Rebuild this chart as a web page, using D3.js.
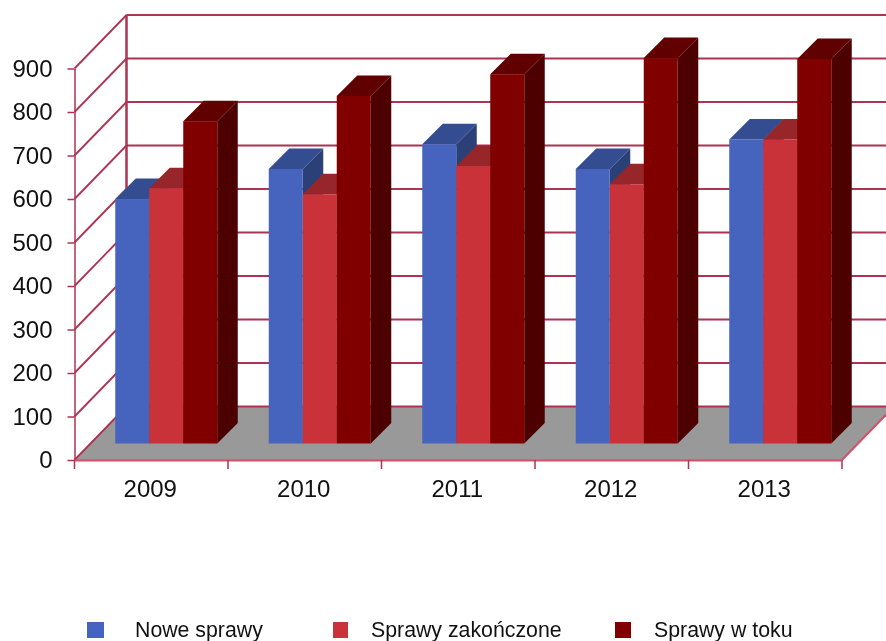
<!DOCTYPE html>
<html>
<head>
<meta charset="utf-8">
<script src="https://cdn.jsdelivr.net/npm/d3@7"></script>
<style>
  html, body { margin: 0; padding: 0; background: #fff; overflow: hidden; }
  text { font-family: "Liberation Sans", Arial, sans-serif; fill: #111; }
  svg { filter: blur(0.35px); }
</style>
</head>
<body>
<div id="chart"></div>
<script>
var years = ['2009', '2010', '2011', '2012', '2013'],
    nowe = [562, 631, 688, 631, 699],
    zakonczone = [587, 573, 638, 596, 699],
    wToku = [741, 799, 849, 886, 884],
    seriesNames = ['Nowe sprawy', 'Sprawy zakończone', 'Sprawy w toku'],
    yTicks = [0, 100, 200, 300, 400, 500, 600, 700, 800, 900];

var width = 886,
    height = 641,
    gridColor = '#ad3352',
    floorLine = '#d2506c',
    depthX = 52,
    depthY = 53.5,
    barW = 34,
    barDepth = 20.5,
    barShift = 15,      // how far the bars sit behind the front edge of the floor
    barLift = 16.5;

var seriesColors = [
    {front: '#4664be', top: '#344c90', side: '#2c4078'},
    {front: '#c83238', top: '#962629', side: '#7c1f22'},
    {front: '#800000', top: '#600000', side: '#4d0000'}
];

var svg = d3.select('#chart')
    .append('svg')
    .attr('width', width)
    .attr('height', height);

var x = d3.scaleBand().domain(years).range([74.5, 842]),
    y = d3.scaleLinear().domain([0, 900]).range([460, 68.5]);

// floor
var x0 = x.range()[0], x1 = x.range()[1], y0 = y(0);
svg.append('polygon')
    .attr('points', [[x0, y0], [x0 + depthX, y0 - depthY], [x1 + depthX, y0 - depthY], [x1, y0]].join(' '))
    .attr('fill', '#999999');

// back wall and side wall grid
var grid = svg.append('g').attr('fill', 'none').attr('stroke', gridColor);

grid.selectAll('.back')
    .data(yTicks)
    .enter()
    .append('line')
    .attr('x1', x0 + depthX)
    .attr('x2', width)
    .attr('y1', d => y(d) - depthY)
    .attr('y2', d => y(d) - depthY)
    .attr('stroke-width', 2);

grid.selectAll('.diag')
    .data(yTicks)
    .enter()
    .append('line')
    .attr('x1', x0)
    .attr('x2', x0 + depthX)
    .attr('y1', d => y(d))
    .attr('y2', d => y(d) - depthY)
    .attr('stroke-width', 1.8);

grid.append('line')
    .attr('x1', x0 + depthX).attr('x2', x0 + depthX)
    .attr('y1', y(900) - depthY).attr('y2', y0 - depthY)
    .attr('stroke-width', 2.5);

grid.append('line')
    .attr('x1', x1).attr('x2', x1 + depthX)
    .attr('y1', y0).attr('y2', y0 - depthY)
    .attr('stroke', floorLine)
    .attr('stroke-width', 2);

// bars
var values = [nowe, zakonczone, wToku];

years.forEach(function(year, i){
    var left = x(year) + (x.bandwidth() - 3 * barW) / 2 + barShift,
        base = y(0) - barLift;
    values.forEach(function(vals, s){
        var bx = left + s * barW,
            by = y(vals[i]) - barLift,
            c = seriesColors[s],
            g = svg.append('g');
        g.append('polygon')
            .attr('points', [[bx + barW, by], [bx + barW + barDepth, by - barDepth], [bx + barW + barDepth, base - barDepth], [bx + barW, base]].join(' '))
            .attr('fill', c.side);
        g.append('polygon')
            .attr('points', [[bx, by], [bx + barDepth, by - barDepth], [bx + barW + barDepth, by - barDepth], [bx + barW, by]].join(' '))
            .attr('fill', c.top);
        g.append('rect')
            .attr('x', bx)
            .attr('y', by)
            .attr('width', barW)
            .attr('height', base - by)
            .attr('fill', c.front);
    });
});

// axes
var yAxis = svg.append('g')
    .attr('transform', 'translate(' + x0 + ',0)')
    .call(d3.axisLeft(y).tickValues(yTicks).tickSize(7).tickSizeOuter(0).tickPadding(15));

var xAxis = svg.append('g')
    .attr('transform', 'translate(-1,' + y0 + ')')
    .call(d3.axisBottom(x).tickSize(0).tickPadding(20));

xAxis.selectAll('.cat-tick')
    .data(d3.range(years.length + 1))
    .enter()
    .append('line')
    .attr('x1', d => 1 + x0 + d * x.step())
    .attr('x2', d => 1 + x0 + d * x.step())
    .attr('y1', 0)
    .attr('y2', 9)
    .attr('stroke', gridColor)
    .attr('stroke-width', 1.5);

yAxis.selectAll('.domain, line').attr('stroke', gridColor).attr('stroke-width', 1.5);
xAxis.select('.domain').attr('stroke', floorLine).attr('stroke-width', 2);
yAxis.selectAll('text').attr('font-size', 24).attr('fill', null);
xAxis.selectAll('.tick text').attr('font-size', 24).attr('fill', null);
yAxis.attr('font-family', null);
xAxis.attr('font-family', null);

// legend
var legendSwatch = [87, 333, 615],
    legendSwatchW = [17, 15, 16],
    legendText = [135, 371, 654];

var legend = svg.append('g');

legend.selectAll('rect')
    .data(seriesNames)
    .enter()
    .append('rect')
    .attr('x', (d, i) => legendSwatch[i])
    .attr('y', 622)
    .attr('width', (d, i) => legendSwatchW[i])
    .attr('height', 16)
    .attr('fill', (d, i) => seriesColors[i].front);

legend.selectAll('text')
    .data(seriesNames)
    .enter()
    .append('text')
    .text(d => d)
    .attr('x', (d, i) => legendText[i])
    .attr('y', 637)
    .attr('font-size', 21.3);
</script>
</body>
</html>
